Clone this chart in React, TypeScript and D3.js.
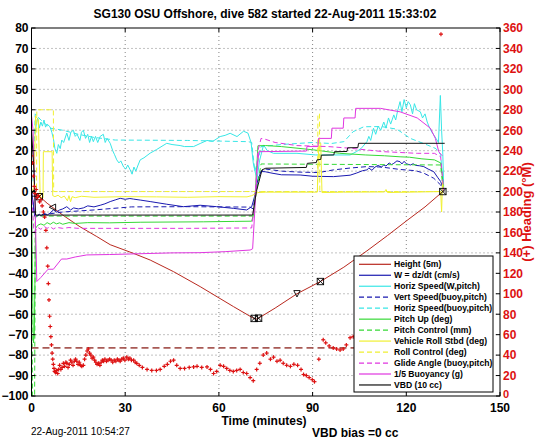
import React from 'react';
import * as d3 from 'd3';

type P = [number, number];

const titleText = 'SG130 OSU Offshore, dive 582 started 22-Aug-2011 15:33:02';
const xTicks = [0, 30, 60, 90, 120, 150];
const yTicks = d3.range(-100, 81, 10);
const rTicks = d3.range(0, 361, 20);

const heightPts: P[] = [
  [0, 0], [1, -1], [2, -2], [3, -3], [5, -5.7], [10, -11.5], [15.5, -17.2], [20.9, -22], [25.2, -26],
  [32.6, -30.2], [38, -33.5], [45.5, -39.2], [54, -46.5], [64.7, -56.3], [71.1, -62], [72.2, -62.4],
  [78, -57], [85, -50], [92.5, -44], [100, -37], [107.4, -29], [114, -21.5], [120, -14.4], [126, -7.5], [131.7, 0],
];
const markerUpT = [0.7, 85];
const markerBoxT = [2.5, 71.3, 72.7, 92.5, 131.7];
const markerLeftT = [6.7];

const wPts: P[] = [
  [0, 0], [0.5, -5], [1, -12], [1.6, -12.3], [2.5, -11], [3, -12], [4, -10.5], [5, -11.5], [5.9, -10.6], [7, -9],
  [8, -10], [9, -9], [10, -8.5], [11.3, -7.4], [12.5, -9], [13.5, -8], [15, -8.5], [16.6, -8], [18, -7], [20, -7.5],
  [22, -6.7], [23.5, -6], [25.2, -4.9], [27, -4], [28.4, -3.3], [30, -3.8], [31.5, -3.4], [32.7, -3.7], [35, -4.2],
  [38, -4.9], [43.3, -6.2], [48.6, -7.4], [54, -6.7], [59.3, -7.4], [64.6, -8.2], [68.9, -9], [70.5, -7.4], [71.5, -2],
  [72.5, 6], [73.5, 9.8], [74.8, 9.7], [77, 9], [80, 8.2], [86, 8.1], [90, 7.5], [96.7, 7.3], [102, 8], [104, 9],
  [106, 10.2], [107.4, 10.6], [108, 11.5], [109, 10.4], [110, 12], [111, 12.8], [112, 11.9], [112.8, 13], [113.5, 12.5],
  [114.5, 14], [115.3, 13.2], [116, 13.8], [117, 15], [118, 14.6], [118.6, 13.5], [119.3, 14.8], [120, 13.6], [121.3, 13],
  [122.2, 13.6], [123, 12.8], [124.3, 12.6], [125.6, 12.2], [127, 11], [128.8, 9.7], [130, 7], [131, 4.9], [132, 0.5],
];

const vertBuoyPts: P[] = [
  [0, 0], [1, -12], [3, -11.5], [10, -10], [20, -9], [28, -8], [32, -7.5], [50, -7.4], [70, -7.6], [71, -8.5], [72, 3],
  [73.5, 10], [75, 11], [80, 10], [86, 9.5], [92, 9.3], [96.7, 10.6], [102, 11.5], [107.4, 12.2], [112, 12], [118, 10.8],
  [123, 10.2], [125.6, 9], [128.8, 6.5], [131, 3.2], [132, 0],
];

const horizWPts: P[] = [
  [1.1, 28], [1.6, 33.5], [2, 36], [2.5, 31], [3, 34], [3.5, 32], [4, 35], [4.5, 31.5], [5, 33], [5.9, 31.7], [6.5, 29],
  [7, 26], [7.5, 21], [8.1, 18.7], [8.6, 23], [9.2, 21], [9.7, 25.2], [10.3, 24], [11.3, 28.6], [12, 25], [12.6, 29],
  [13.4, 30], [14, 27], [14.6, 28], [15.5, 25], [16, 29], [16.6, 30], [17.3, 26], [18, 28], [18.6, 24], [19.2, 27],
  [19.8, 24.4], [20.5, 27], [21.2, 24], [22, 27], [23, 28], [23.6, 24], [24.2, 26], [25.2, 23.6], [26, 20], [26.6, 18],
  [27.3, 15.5], [28, 14], [28.6, 15], [29.5, 12], [30.2, 11], [30.8, 13], [31.6, 10.6], [32.2, 8.5], [32.8, 12], [33.4, 10],
  [34, 12.5], [34.8, 15.5], [36, 16.5], [38, 18.8], [40, 20.5], [43.3, 23.6], [45, 23], [47.6, 22.5], [49, 22], [51.9, 22],
  [54, 23.5], [56.2, 25], [58, 24.5], [60.4, 26.9], [62, 27.5], [63.6, 28.5], [65.8, 26.9], [67.9, 29.5], [69.3, 28.6],
  [70.3, 24], [71, 14], [71.7, 9], [72.2, 6], [73, 15], [74.3, 22.8], [75.5, 20], [77.5, 18.7], [85, 18.7], [91, 17.9],
  [96.7, 17.9], [102, 17.9], [104, 19.5], [105.5, 21], [107.4, 24.4], [108, 27], [108.6, 25], [109.5, 31], [110.2, 28],
  [111, 32], [111.8, 30], [112.8, 34], [113.5, 31], [114.3, 36], [115, 33], [116, 37.5], [116.6, 35], [117.3, 40], [118, 44],
  [118.6, 39], [119.3, 45], [120, 41], [120.6, 44], [121.3, 42.4], [122, 38], [122.6, 43], [123.3, 40], [124.5, 39],
  [125.2, 36], [126, 38], [126.7, 34], [127.5, 31], [128.2, 29], [128.8, 27.7], [129.5, 26], [130.3, 24], [130.9, 47],
  [131.3, 30], [131.7, 18], [132, 0],
];

const horizBuoyPts: P[] = [
  [0.5, 5], [1.2, 38], [3, 35], [6, 31], [10, 30], [15, 28], [20, 26.5], [26.8, 25.2], [50, 25], [69.4, 24.4], [70.5, 24],
  [71.5, 10], [72.5, 15], [73.5, 22], [80, 23], [90, 24], [96, 23.5], [100, 24.4], [103, 29.3], [106.4, 31.7], [112, 31.8],
  [117, 30.5], [121.3, 26], [126.7, 22.8], [129.5, 21], [131, 18], [132, 0],
];

const pitchUpPts: P[] = [
  [0, 0], [0.3, -40], [0.6, -74], [0.9, -70], [1.3, -18], [2, -16.5], [3, -15.8], [4, -16.5], [5, -15.2], [6, -16],
  [7, -15], [8, -15.8], [9, -15.3], [10, -16], [12, -15.2], [14, -15.6], [18, -15.2], [25, -15.3], [35, -15], [45, -14.9],
  [55, -14.8], [65, -14.6], [70.5, -14.5], [71.3, -10], [72.5, 22.4], [75, 22.5], [80, 22], [90.3, 20.4], [98.7, 18.7],
  [107, 17.9], [113, 17.5], [118, 17], [121, 16.8], [125, 16], [129, 15.5], [131, 14], [131.5, 8], [132, 0],
];

const pitchCtlPts: P[] = [
  [0, 0], [0.3, -100], [1.0, -100], [1.2, -12], [71, -12], [72, 0], [73.5, 13.5], [131, 13], [131.5, 5], [132, 0],
];

const rollPts: P[] = [
  [0, 0], [0.8, 2], [1.3, 37], [2.2, 35], [2.8, -3], [3.7, -3], [3.8, 19.5], [6.6, 19.5], [6.8, -2], [7.5, -2.5],
  [8.5, -1.8], [9.5, -3], [10.5, -2.2], [11.5, -4.5], [12, -2], [12.5, -5], [13, -2.5], [14, -3], [16, -2.3], [20, -2.8],
  [30, -2.5], [40, -2.6], [50, -2.8], [60, -2.5], [69, -2.6], [70.5, -2], [72.5, -0.5], [75, -0.3], [91.5, -0.3], [92, 23.7],
  [92.6, 23.7], [93, -0.5], [100, -0.3], [113, -0.2], [113.5, 1], [114, -0.5], [131, 0], [131.3, -10], [131.6, 5], [132, 0],
];

const rollCtlPts: P[] = [
  [0, 0], [1.6, 0], [1.7, 40], [7.0, 40], [7.1, 0], [91.6, 0], [91.7, 38], [92.2, 38], [92.3, 0], [132, 0],
];

const glidePts: P[] = [
  [0, 0], [0.8, -20], [1.5, -19], [2, -17.5], [3, -18.5], [4, -17], [5, -18], [6, -17.2], [7, -18.3], [8, -17.5],
  [10, -18], [12, -17.6], [15, -18], [30, -18], [50, -18], [70.5, -17.8], [71.5, -5], [72.5, 20], [73.5, 26], [75, 25.5],
  [78, 24], [85, 22.5], [95, 22], [102, 21.2], [112.8, 19.5], [123.5, 18.7], [129, 18.7], [131, 17], [132, 0],
];

const buoyPts: P[] = [
  [0, 37], [0.5, 30], [1.2, -10], [1.7, -44], [3, -42], [5.3, -38], [7, -38], [9.6, -33], [11.3, -33], [14, -32],
  [17.7, -31], [25, -30.8], [32.5, -30.5], [45, -30], [53.9, -29.9], [62, -29.4], [70, -28.6], [70.8, -28], [72.2, 10],
  [72.8, 19.5], [88, 19.8], [88.2, 22], [91.7, 22], [91.9, 26], [96, 26], [96.2, 31], [99.8, 31], [100, 36], [103.6, 36],
  [103.8, 40.7], [111.7, 40.7], [118, 39], [123.5, 36], [127.7, 31], [129.3, 26], [130.4, 19.5], [131.5, 17.5],
];

const vbdPts: P[] = [
  [0, 30], [0.8, 10], [1.3, -11.5], [70.8, -11.5], [72, 0], [73.8, 10.6], [75, 11.4], [88, 11.8], [88.3, 13.8],
  [91.2, 14.2], [91.4, 15.5], [92.6, 15.7], [92.8, 17.8], [96.8, 17.9], [97, 19.5], [101, 19.6], [101.2, 21.4],
  [104.5, 21.5], [104.7, 23.6], [132.3, 23.6],
];

// heading in degrees (right axis)
const headingPts: P[] = [
  [0, 235], [0.3, 228], [0.6, 215], [0.9, 205], [1.2, 198], [1.5, 202], [1.8, 194], [2.2, 196], [2.6, 190], [3.0, 192],
  [3.4, 186], [3.8, 180], [4.2, 175], [4.6, 162], [4.9, 145], [5.2, 127], [5.4, 110], [5.6, 94], [5.8, 78], [6.0, 68],
  [6.2, 58], [6.4, 50], [6.6, 42], [6.8, 36], [7.0, 31], [7.2, 27], [7.4, 24], [7.7, 23], [8.0, 25], [8.4, 22], [8.7, 26],
  [9.0, 30], [9.4, 26], [9.8, 28], [10.2, 32], [10.6, 29], [11.0, 33], [11.3, 32], [11.7, 28], [12.1, 31], [12.5, 35],
  [12.9, 33], [13.3, 30], [13.7, 34], [14.1, 36], [14.5, 34], [14.9, 31], [15.3, 33], [15.7, 30], [16.1, 29], [16.6, 30],
  [17.0, 36], [17.4, 40], [17.8, 44], [18.2, 46], [18.6, 42], [19.0, 40], [19.4, 37], [19.8, 38], [20.2, 35], [20.6, 33],
  [21.0, 31], [21.5, 32], [21.9, 30], [22.3, 33], [22.7, 35], [23.1, 34], [23.5, 36], [24.0, 34], [24.5, 35], [25.0, 36],
  [25.5, 35], [26, 33], [26.5, 35], [27, 34], [27.5, 36], [28, 35], [28.4, 34], [28.9, 36], [29.4, 37], [29.9, 35],
  [30.5, 38], [31, 36], [31.5, 37], [32, 35], [32.7, 35], [33.2, 33], [33.7, 32], [34.5, 30], [35.5, 28], [37, 26],
  [38.5, 25], [40, 25], [41.2, 26], [42.5, 29], [43.5, 31], [44.5, 34], [45.5, 35], [46.5, 30], [47.6, 27], [49, 27],
  [50.5, 28], [51.9, 28.4], [53, 29], [54.5, 28], [56.2, 28.4], [57.3, 26], [58.3, 22], [59.3, 24], [60.4, 30], [61.5, 29],
  [62.5, 27], [63.5, 25], [64.6, 24], [65.7, 25], [66.8, 26], [67.8, 23], [68.9, 22], [70, 18], [71, 15], [72.1, 26],
  [73.1, 32], [74.2, 40], [75.3, 42], [76.5, 36], [77.5, 38], [78.6, 34], [79.6, 35], [80.6, 32], [81.7, 30], [82.9, 29],
  [84, 31], [85.2, 30], [86.3, 26], [87.1, 21], [88, 20], [88.9, 18], [89.9, 16], [90.6, 14], [92, 36], [93.4, 55],
  [94.2, 52], [95.3, 49], [96.6, 47], [97.7, 46], [98.8, 45], [99.8, 46], [100.8, 50], [102, 57], [103, 58], [104.5, 60],
  [107, 65], [110, 68], [113, 72], [116, 74], [119, 78], [122, 82], [125, 90], [128, 100], [131.1, 354],
];
const headingRefT = [0, 132];
const headingRefV = 47;

const CY = '#38e6e6';
const BL = '#1a1ab0';
const GR = '#36d936';
const YE = '#f0f032';
const MA = '#e036e0';
const HR = '#b8281e';

interface Series { name: string; data: P[]; color: string; dash?: string; }
const seriesList: Series[] = [
  { name: 'Height (5m)', data: heightPts, color: HR },
  { name: 'W = dz/dt (cm/s)', data: wPts, color: BL },
  { name: 'Horiz Speed(W,pitch)', data: horizWPts, color: CY },
  { name: 'Vert Speed(buoy,pitch)', data: vertBuoyPts, color: BL, dash: '5,3' },
  { name: 'Horiz Speed(buoy,pitch)', data: horizBuoyPts, color: CY, dash: '5,3' },
  { name: 'Pitch Up (deg)', data: pitchUpPts, color: GR },
  { name: 'Pitch Control (mm)', data: pitchCtlPts, color: GR, dash: '5,3' },
  { name: 'Vehicle Roll Stbd (deg)', data: rollPts, color: YE },
  { name: 'Roll Control (deg)', data: rollCtlPts, color: YE, dash: '5,3' },
  { name: 'Glide Angle (buoy,pitch)', data: glidePts, color: MA, dash: '5,3' },
  { name: '1/5 Buoyancy (g)', data: buoyPts, color: MA },
  { name: 'VBD (10 cc)', data: vbdPts, color: '#111111' },
];

const FONT = '"Liberation Sans", Arial, Helvetica, sans-serif';
const RED = '#dd1111';

function interpAt(pts: P[], t: number): number {
  for (let i = 1; i < pts.length; i++) {
    if (t <= pts[i][0]) {
      const [t0, v0] = pts[i - 1];
      const [t1, v1] = pts[i];
      return v0 + ((t - t0) / (t1 - t0)) * (v1 - v0);
    }
  }
  return pts[pts.length - 1][1];
}

export default function App() {
  const W = 546, H = 442;
  const L = 31.5, R = 500, T = 28, B = 396;
  const x = d3.scaleLinear().domain([0, 150]).range([L, R]);
  const y = d3.scaleLinear().domain([-100, 80]).range([B, T]);
  const yr = d3.scaleLinear().domain([0, 360]).range([B, T]);
  const line = d3.line<P>().x(d => x(d[0])).y(d => y(d[1]));
  const mk = 3.2;
  const pa = 2;

  const legX = 354, legY = 256, legW = 139, legH = 136;
  const rowH = 10.97;

  return (
    <svg width={W} height={H} style={{ position: 'absolute', left: 0, top: 0, background: '#fff' }} fontFamily={FONT}>
      <rect x={0} y={0} width={W} height={H} fill="#fff" />
      <defs>
        <clipPath id="plotClip">
          <rect x={L} y={T} width={R - L} height={B - T} />
        </clipPath>
      </defs>
      {/* grid */}
      <g stroke="#666" strokeWidth={0.8} strokeDasharray="1,3">
        {xTicks.slice(1, -1).map(t => (
          <line key={'gx' + t} x1={x(t)} x2={x(t)} y1={T} y2={B} />
        ))}
        {yTicks.slice(1, -1).map(t => (
          <line key={'gy' + t} x1={L} x2={R} y1={y(t)} y2={y(t)} />
        ))}
      </g>
      <g clipPath="url(#plotClip)" fill="none" strokeWidth={1}>
        {seriesList.map(s => (
          <path key={s.name} d={line(s.data) || ''} stroke={s.color} strokeDasharray={s.dash} />
        ))}
        {/* height markers */}
        <g stroke="#000" strokeWidth={0.9} fill="none">
          {markerUpT.map((t, i) => {
            const cx = x(t), cy = y(interpAt(heightPts, t));
            const up = i === 0;
            const pts = up
              ? `${cx},${cy - mk} ${cx - mk},${cy + mk} ${cx + mk},${cy + mk}`
              : `${cx},${cy + mk} ${cx - mk},${cy - mk} ${cx + mk},${cy - mk}`;
            return <polygon key={'u' + t} points={pts} />;
          })}
          {markerLeftT.map(t => {
            const cx = x(t), cy = y(interpAt(heightPts, t));
            return <polygon key={'l' + t} points={`${cx - mk},${cy} ${cx + mk},${cy - mk} ${cx + mk},${cy + mk}`} />;
          })}
          {markerBoxT.map(t => {
            const cx = x(t), cy = y(interpAt(heightPts, t));
            return (
              <g key={'b' + t}>
                <rect x={cx - mk} y={cy - mk} width={2 * mk} height={2 * mk} />
                <line x1={cx - mk} y1={cy - mk} x2={cx + mk} y2={cy + mk} />
                <line x1={cx - mk} y1={cy + mk} x2={cx + mk} y2={cy - mk} />
              </g>
            );
          })}
        </g>
        {/* heading */}
        <line x1={x(headingRefT[0])} x2={x(headingRefT[1])} y1={yr(headingRefV)} y2={yr(headingRefV)}
          stroke="#a85a55" strokeWidth={1.8} strokeDasharray="7,4" />
        <g stroke={RED} strokeWidth={1.2}>
          {headingPts.map(([t, h], i) => (
            <g key={'h' + i}>
              <line x1={x(t) - pa} x2={x(t) + pa} y1={yr(h)} y2={yr(h)} />
              <line x1={x(t)} x2={x(t)} y1={yr(h) - pa} y2={yr(h) + pa} />
            </g>
          ))}
        </g>
      </g>
      {/* axes box and ticks */}
      <rect x={L} y={T} width={R - L} height={B - T} fill="none" stroke="#000" strokeWidth={1} />
      <g stroke="#000" strokeWidth={1}>
        {xTicks.map(t => (
          <g key={'xt' + t}>
            <line x1={x(t)} x2={x(t)} y1={B} y2={B - 4} />
            <line x1={x(t)} x2={x(t)} y1={T} y2={T + 4} />
          </g>
        ))}
        {yTicks.map(t => (
          <line key={'yt' + t} x1={L} x2={L + 4} y1={y(t)} y2={y(t)} />
        ))}
        {rTicks.map(t => (
          <line key={'rt' + t} x1={R} x2={R - 4} y1={yr(t)} y2={yr(t)} />
        ))}
      </g>
      <g fontSize={12} fontWeight="bold" fill="#000">
        {yTicks.map(t => (
          <text key={'yl' + t} x={L - 3} y={y(t)} dy="0.36em" textAnchor="end">
            {t < 0 ? '\u2212' + Math.abs(t) : String(t)}
          </text>
        ))}
        {xTicks.map(t => (
          <text key={'xl' + t} x={x(t)} y={412} textAnchor="middle">{t}</text>
        ))}
      </g>
      <g fontSize={12} fontWeight="bold" fill={RED}>
        {rTicks.map(t => (
          <text key={'rl' + t} x={R + 3} y={yr(t)} dy={t === 0 ? '0.18em' : '0.36em'} textAnchor="start"
            fontSize={t === 0 ? 11 : 12}>{t}</text>
        ))}
      </g>
      <text x={265} y={18} textAnchor="middle" fontSize={12} fontWeight="bold">{titleText}</text>
      <text x={264} y={424.5} textAnchor="middle" fontSize={12} fontWeight="bold">Time (minutes)</text>
      <text transform={`translate(531,212) rotate(-90)`} textAnchor="middle" fontSize={13} fontWeight="bold" fill={RED}>
        (+) Heading (°M)
      </text>
      <text x={31} y={435} fontSize={10}>22-Aug-2011 10:54:27</text>
      <text x={312} y={437} fontSize={12} fontWeight="bold">VBD bias =0 cc</text>
      {/* legend */}
      <g>
        <rect x={legX} y={legY} width={legW} height={legH} fill="#fff" stroke="#000" strokeWidth={1} />
        {seriesList.map((s, i) => {
          const ly = legY + 8.3 + i * rowH;
          return (
            <g key={'lg' + i}>
              <line x1={legX + 5} x2={legX + 37} y1={ly} y2={ly} stroke={s.color} strokeWidth={1.2} strokeDasharray={s.dash} />
              <text x={legX + 40} y={ly} dy="0.35em" fontSize={8.6} fontWeight="bold">{s.name}</text>
            </g>
          );
        })}
      </g>
    </svg>
  );
}
